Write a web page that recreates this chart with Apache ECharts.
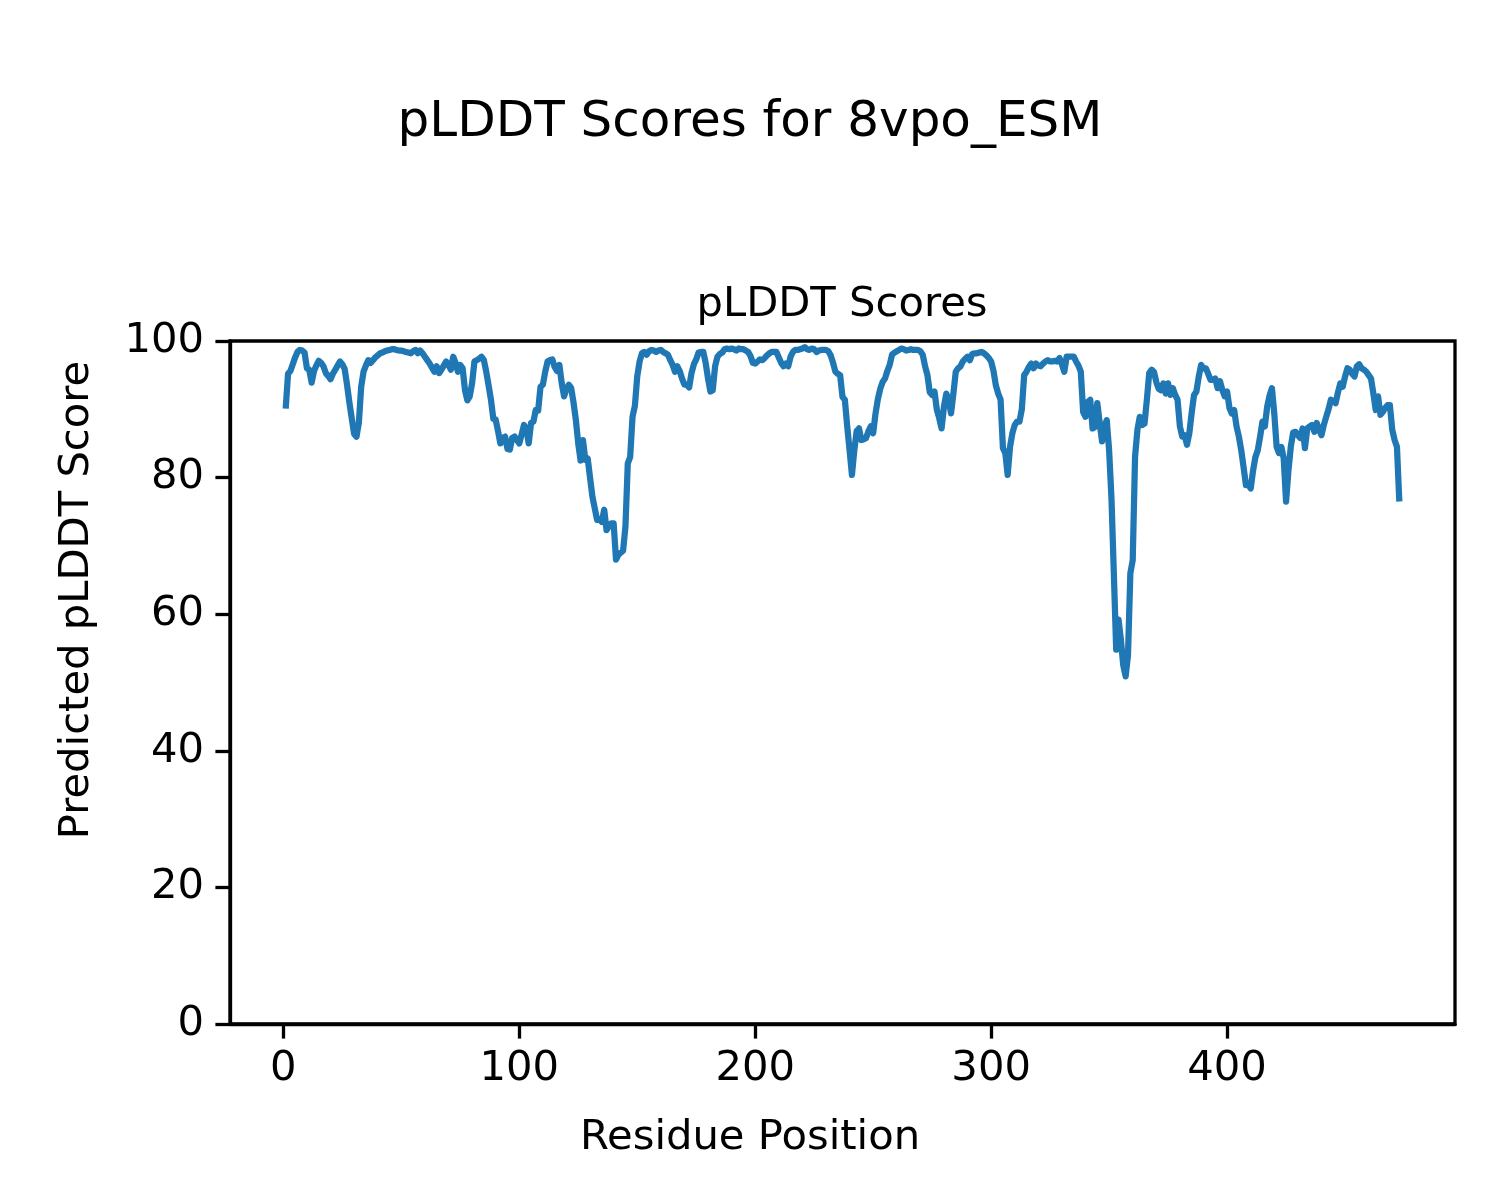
<!DOCTYPE html>
<html>
<head>
<meta charset="utf-8">
<script src="https://cdn.jsdelivr.net/npm/echarts@6/dist/echarts.min.js"></script>
<style>html,body{margin:0;padding:0;background:#fff;}#c{width:1500px;height:1200px;}</style>
</head>
<body>
<div id="c"></div>
<script>
const figTitle = 'pLDDT Scores for 8vpo_ESM';
const axTitle = 'pLDDT Scores';
const xLabel = 'Residue Position';
const yLabel = 'Predicted pLDDT Score';
const xTicks = [0, 100, 200, 300, 400];
const yTicks = [0, 20, 40, 60, 80, 100];
const plddt = [
90.1,95.2,95.6,96.6,97.6,98.4,98.7,98.6,98.3,96.0,
95.8,93.9,95.6,96.4,97.1,96.8,96.3,95.3,94.9,94.4,
95.2,95.8,96.4,97.0,96.6,95.9,93.6,91.0,88.7,86.4,
86.0,88.0,93.3,95.5,96.4,97.2,96.8,97.2,97.6,97.9,
98.2,98.3,98.5,98.6,98.7,98.8,98.8,98.7,98.6,98.6,
98.5,98.4,98.3,98.2,98.5,98.7,98.2,98.6,98.2,97.7,
97.2,96.7,96.1,95.5,96.3,95.3,95.8,96.4,97.0,96.5,
95.8,97.7,96.8,95.5,96.5,96.0,92.8,91.3,91.9,93.8,
97.0,97.2,97.4,97.7,97.2,95.5,93.5,91.4,88.6,88.5,
86.8,85.0,85.8,86.0,84.2,84.1,85.8,86.0,85.5,85.0,
86.3,87.7,87.2,85.0,88.0,88.2,89.9,89.8,93.3,93.6,
95.5,97.0,97.2,97.3,96.2,95.6,96.5,93.8,91.9,93.0,
93.6,93.1,91.0,88.4,85.0,82.5,85.5,82.6,82.8,80.0,
77.2,75.5,73.8,73.9,73.5,75.3,72.3,72.9,73.3,73.3,
68.0,68.7,69.0,69.3,72.8,82.1,83.0,88.9,90.5,94.8,
97.0,98.2,98.4,98.0,98.5,98.7,98.6,98.4,98.6,98.7,
98.4,98.2,98.0,97.2,96.5,95.5,96.3,95.6,94.5,93.6,
93.6,93.2,95.3,96.6,97.3,98.3,98.4,98.4,96.8,94.5,
92.6,92.8,96.3,97.7,98.1,98.3,98.8,98.9,98.8,98.9,
98.8,98.6,98.9,98.8,98.8,98.6,98.4,97.8,96.8,96.7,
97.0,97.3,97.2,97.5,97.9,98.2,98.4,98.4,98.4,97.6,
96.8,96.3,96.7,96.3,97.7,98.4,98.7,98.7,98.8,98.9,
99.1,98.8,98.7,98.9,98.8,98.4,98.6,98.7,98.7,98.7,
98.5,97.9,96.8,95.5,95.2,95.0,91.8,91.4,87.5,84.0,
80.4,84.0,86.8,87.2,85.5,85.6,85.8,86.8,87.5,86.5,
89.4,91.5,93.0,94.0,94.5,95.6,96.5,98.0,98.3,98.5,
98.7,98.9,98.8,98.6,98.7,98.8,98.7,98.7,98.7,98.5,
98.0,96.3,95.0,92.5,92.1,92.6,89.9,88.7,87.2,90.4,
92.3,91.4,89.4,92.3,95.5,96.0,96.3,97.0,97.4,97.7,
97.2,98.1,98.2,98.2,98.3,98.4,98.2,97.9,97.5,97.0,
95.6,93.5,92.3,91.4,84.3,83.6,80.4,84.5,86.5,87.7,
88.2,88.2,90.0,95.0,95.5,96.2,96.7,96.0,96.7,96.4,
96.3,96.7,97.0,97.2,97.0,97.0,97.1,97.0,97.5,96.6,
95.5,97.7,97.7,97.7,97.7,97.0,96.4,95.5,89.6,88.9,
91.1,91.4,87.2,87.4,90.9,88.0,85.3,87.5,88.4,84.0,
77.0,66.0,54.8,59.2,56.2,52.5,50.9,54.0,66.0,67.9,
83.1,87.0,88.9,87.7,87.9,91.4,95.3,95.8,95.5,94.0,
93.0,92.8,93.8,92.3,93.8,92.1,93.1,92.1,91.4,87.5,
86.0,86.2,84.8,86.5,89.5,92.1,92.6,94.8,96.5,96.0,
96.0,95.2,94.3,94.3,94.5,93.1,94.1,92.8,91.9,92.6,
90.2,89.4,89.9,87.5,86.0,84.0,81.5,78.9,79.0,78.4,
81.0,83.0,84.0,86.0,88.2,87.5,90.4,92.0,93.1,89.4,
84.5,83.6,84.5,82.8,76.5,81.0,84.5,86.6,86.7,86.2,
85.8,87.2,84.3,87.2,87.5,87.7,86.7,88.0,87.0,86.2,
87.7,88.9,90.0,91.4,91.2,90.9,92.5,93.8,93.3,94.8,
96.0,95.8,95.2,94.8,96.3,96.6,96.0,95.8,95.5,95.0,
94.5,92.3,89.9,91.9,89.2,89.6,90.2,90.6,90.6,87.0,
85.5,84.5,76.5
];
const residues = plddt.map((v, i) => i + 1);
const seriesData = residues.map((r, i) => [r, plddt[i]]);
const xMin = residues[0] - 0.05 * (residues[residues.length - 1] - residues[0]);
const xMax = residues[residues.length - 1] + 0.05 * (residues[residues.length - 1] - residues[0]);

const FONT = 'DejaVu Sans';
const chart = echarts.init(document.getElementById('c'), null, {renderer: 'canvas'});
chart.setOption({
  animation: false,
  backgroundColor: '#ffffff',
  textStyle: {fontFamily: FONT, color: '#000'},
  title: [
    {text: figTitle, left: 'center', top: 93, textStyle: {fontFamily: FONT, fontSize: 50, fontWeight: 'normal', color: '#000'}},
    {text: axTitle, left: 837, textAlign: 'center', top: 279, textStyle: {fontFamily: FONT, fontSize: 41.7, fontWeight: 'normal', color: '#000'}}
  ],
  graphic: [
    {type: 'text', x: 750, y: 1138, silent: true,
     style: {text: xLabel, fontFamily: FONT, fontSize: 41.7, fill: '#000', textAlign: 'center', textVerticalAlign: 'middle'}},
    {type: 'text', x: 77, y: 600, rotation: Math.PI / 2, silent: true,
     style: {text: yLabel, fontFamily: FONT, fontSize: 41.7, fill: '#000', textAlign: 'center', textVerticalAlign: 'middle'}}
  ],
  grid: {left: 230, right: 45, top: 341, bottom: 176, show: true, borderColor: '#000', borderWidth: 3.3, backgroundColor: 'transparent'},
  xAxis: {
    type: 'value', min: xMin, max: xMax,
    axisLine: {show: true, onZero: false, lineStyle: {color: '#000', width: 3.3}},
    axisTick: {show: true, inside: false, length: 14.6, lineStyle: {color: '#000', width: 3.3}, customValues: xTicks},
    axisLabel: {fontFamily: FONT, fontSize: 41.7, color: '#000', margin: 24, customValues: xTicks},
    splitLine: {show: false}
  },
  yAxis: {
    type: 'value', min: 0, max: 100, interval: 20,
    axisLine: {show: true, onZero: false, lineStyle: {color: '#000', width: 3.3}},
    axisTick: {show: true, inside: false, length: 14.6, lineStyle: {color: '#000', width: 3.3}, customValues: yTicks},
    axisLabel: {fontFamily: FONT, fontSize: 41.7, color: '#000', margin: 26, customValues: yTicks},
    splitLine: {show: false}
  },
  series: [{
    type: 'line', data: seriesData, showSymbol: false, symbol: 'none',
    lineStyle: {color: '#1f77b4', width: 6.25, join: 'round', cap: 'butt'},
    itemStyle: {color: '#1f77b4'}
  }]
});
</script>
</body>
</html>
